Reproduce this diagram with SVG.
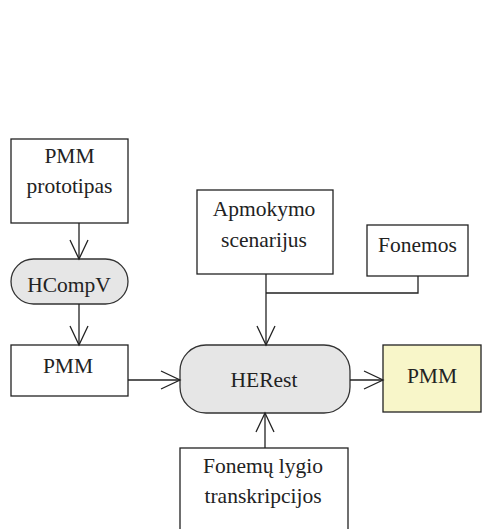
<svg xmlns="http://www.w3.org/2000/svg" width="482" height="529" viewBox="0 0 482 529">
<defs>
<marker id="arr" markerWidth="22" markerHeight="22" refX="20" refY="10" orient="auto" markerUnits="userSpaceOnUse">
<path d="M1,1 L20,10 L1,19" fill="none" stroke="#222" stroke-width="1.3"/>
</marker>
<style>
.box{fill:#fff;stroke:#222;stroke-width:1.3}
.proc{fill:#e6e6e6;stroke:#333;stroke-width:1.3}
.out{fill:#f8f6c9;stroke:#222;stroke-width:1.3}
.t{font-family:"Liberation Serif","Times New Roman",serif;font-size:21.5px;fill:#222;text-anchor:middle}
.c{fill:none;stroke:#222;stroke-width:1.3}
</style>
</defs>
<rect width="482" height="529" fill="#fff"/>
<g id="pmm-prototipas">
<rect class="box" x="11" y="139" width="117" height="84"/>
<text class="t" x="69.5" y="163">PMM</text>
<text class="t" x="69.5" y="193">prototipas</text>
</g>
<g id="hcompv">
<rect class="proc" x="11" y="259" width="117" height="45" rx="22.5"/>
<text class="t" x="69" y="292">HCompV</text>
</g>
<g id="pmm-in">
<rect class="box" x="11" y="345" width="117" height="51"/>
<text class="t" x="68" y="373">PMM</text>
</g>
<g id="apmokymo">
<rect class="box" x="197" y="190" width="136" height="84"/>
<text class="t" x="264" y="216">Apmokymo</text>
<text class="t" x="264" y="247">scenarijus</text>
</g>
<g id="fonemos">
<rect class="box" x="367" y="225" width="101" height="51"/>
<text class="t" x="417.5" y="252">Fonemos</text>
</g>
<g id="herest">
<rect class="proc" x="180" y="345" width="170" height="68" rx="26"/>
<text class="t" x="264" y="387">HERest</text>
</g>
<g id="pmm-out">
<rect class="out" x="383" y="345" width="98" height="67"/>
<text class="t" x="432" y="383">PMM</text>
</g>
<g id="fonemu">
<rect class="box" x="180" y="448" width="168" height="90"/>
<text class="t" x="263" y="473">Fonemų lygio</text>
<text class="t" x="263" y="503">transkripcijos</text>
</g>
<g id="connectors">
<path class="c" d="M79,223 V259" marker-end="url(#arr)"/>
<path class="c" d="M79,304 V345" marker-end="url(#arr)"/>
<path class="c" d="M128,380 H180" marker-end="url(#arr)"/>
<path class="c" d="M350,380 H383" marker-end="url(#arr)"/>
<path class="c" d="M266,274 V345" marker-end="url(#arr)"/>
<path class="c" d="M266,293 H418 V276"/>
<path class="c" d="M265,448 V413" marker-end="url(#arr)"/>
</g>
</svg>
